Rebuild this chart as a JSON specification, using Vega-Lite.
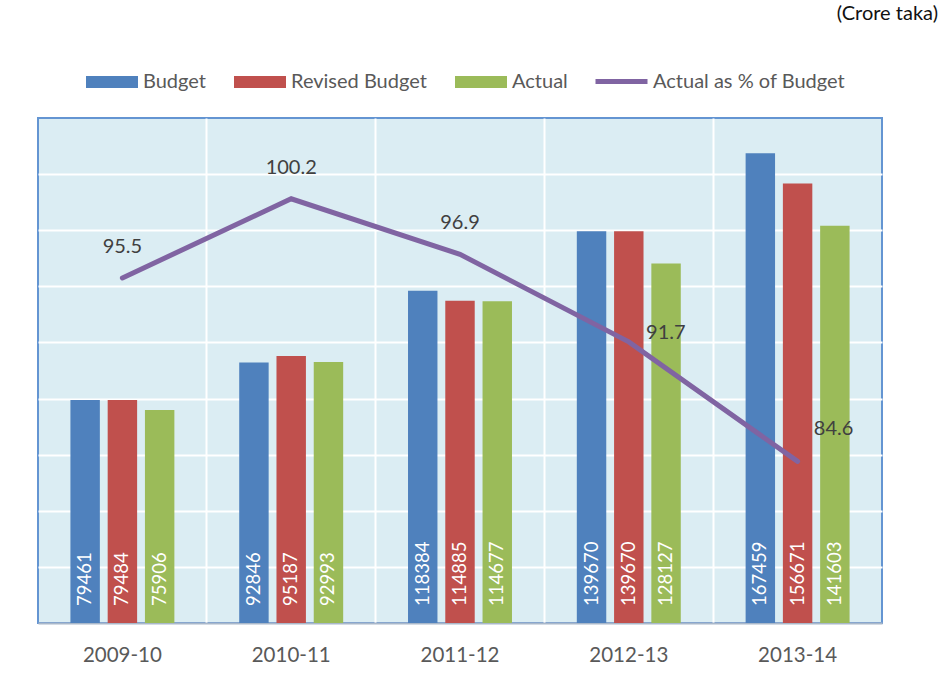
{
  "$schema": "https://vega.github.io/schema/vega-lite/v6.json",
  "autosize": "none",
  "width": 844,
  "height": 505,
  "padding": {"left": 38, "top": 118, "right": 58, "bottom": 57},
  "background": "white",
  "title": {"text": "(Crore taka)", "anchor": "end", "frame": "group", "dx": 56, "dy": 11, "fontSize": 20, "font": "Lato", "fontWeight": 400, "color": "#111111", "offset": 40},
  "datasets": {
    "bars": [
      {"year": "2009-10", "series": "Budget", "value": 79461},
      {"year": "2009-10", "series": "Revised Budget", "value": 79484},
      {"year": "2009-10", "series": "Actual", "value": 75906},
      {"year": "2010-11", "series": "Budget", "value": 92846},
      {"year": "2010-11", "series": "Revised Budget", "value": 95187},
      {"year": "2010-11", "series": "Actual", "value": 92993},
      {"year": "2011-12", "series": "Budget", "value": 118384},
      {"year": "2011-12", "series": "Revised Budget", "value": 114885},
      {"year": "2011-12", "series": "Actual", "value": 114677},
      {"year": "2012-13", "series": "Budget", "value": 139670},
      {"year": "2012-13", "series": "Revised Budget", "value": 139670},
      {"year": "2012-13", "series": "Actual", "value": 128127},
      {"year": "2013-14", "series": "Budget", "value": 167459},
      {"year": "2013-14", "series": "Revised Budget", "value": 156671},
      {"year": "2013-14", "series": "Actual", "value": 141603}
    ],
    "pct": [
      {"year": "2009-10", "pct": 95.5},
      {"year": "2010-11", "pct": 100.2},
      {"year": "2011-12", "pct": 96.9},
      {"year": "2012-13", "pct": 91.7},
      {"year": "2013-14", "pct": 84.6}
    ]
  },
  "encoding": {
    "x": {
      "field": "year", "type": "nominal", "sort": null,
      "scale": {"paddingInner": 0, "paddingOuter": 0},
      "axis": {
        "title": null, "labelAngle": 0, "ticks": false, "labelPadding": 22,
        "labelFont": "Lato", "labelFontSize": 20.5, "labelColor": "#595959",
        "domainColor": "#A9B8CA", "domainWidth": 2,
        "grid": true, "bandPosition": 0, "gridWidth": 2,
        "gridColor": {"condition": {"test": "datum.value === '2009-10'", "value": "transparent"}, "value": "#FFFFFF"}
      }
    }
  },
  "layer": [
    {
      "data": {"name": "bars"},
      "encoding": {
        "xOffset": {"field": "series", "type": "nominal", "sort": ["Budget", "Revised Budget", "Actual"], "scale": {"paddingInner": 0.21, "paddingOuter": 0.87}}
      },
      "layer": [
        {
          "mark": {"type": "bar"},
          "encoding": {
            "y": {"field": "value", "type": "quantitative", "scale": {"domain": [0, 180000], "nice": false},
              "axis": {"title": null, "labels": false, "ticks": false, "domain": false, "grid": true, "gridColor": "#FFFFFF", "gridWidth": 2,
                "values": [20000, 40000, 60000, 80000, 100000, 120000, 140000, 160000]}},
            "color": {
              "field": "series", "type": "nominal",
              "scale": {"domain": ["Budget", "Revised Budget", "Actual"], "range": ["#4F81BD", "#C0504D", "#9BBB59"]},
              "legend": {
                "title": null, "orient": "none", "legendX": 48, "legendY": -62, "direction": "horizontal",
                "symbolType": "M-1,-0.23H1V0.23H-1Z", "symbolSize": 2704, "symbolStrokeWidth": 0, "symbolOpacity": 1,
                "labelFont": "Lato", "labelFontSize": 20, "labelColor": "#595959", "labelLimit": 400,
                "labelOffset": 5, "columnPadding": 28
              }
            }
          }
        },
        {
          "mark": {"type": "text", "angle": 270, "align": "left", "baseline": "middle", "dx": 17, "font": "Lato", "fontSize": 18.5, "color": "#FFFFFF"},
          "encoding": {
            "y": {"datum": 0, "type": "quantitative", "scale": {"domain": [0, 180000], "nice": false}},
            "text": {"field": "value", "type": "quantitative", "format": "d"}
          }
        }
      ]
    },
    {
      "data": {"name": "pct"},
      "encoding": {
        "y": {"field": "pct", "type": "quantitative", "scale": {"domain": [75, 105], "nice": false}, "axis": null}
      },
      "layer": [
        {
          "mark": {"type": "line", "strokeWidth": 5, "strokeCap": "round"},
          "encoding": {
            "stroke": {
              "datum": "Actual as % of Budget", "type": "nominal",
              "scale": {"range": ["#8064A2"]},
              "legend": {
                "title": null, "orient": "none", "legendX": 555, "legendY": -65,
                "symbolType": "stroke", "symbolSize": 2704, "symbolStrokeWidth": 5, "symbolOpacity": 1,
                "labelFont": "Lato", "labelFontSize": 20, "labelColor": "#595959", "labelLimit": 400,
                "labelOffset": 3
              }
            }
          }
        },
        {
          "transform": [{"filter": "datum.year !== '2012-13' && datum.year !== '2013-14'"}],
          "mark": {"type": "text", "dy": -31, "font": "Lato", "fontSize": 20, "color": "#404040"},
          "encoding": {"text": {"field": "pct", "type": "quantitative", "format": ".1f"}}
        },
        {
          "transform": [{"filter": "datum.year === '2012-13'"}],
          "mark": {"type": "text", "dx": 37, "dy": -9, "font": "Lato", "fontSize": 20, "color": "#404040"},
          "encoding": {"text": {"field": "pct", "type": "quantitative", "format": ".1f"}}
        },
        {
          "transform": [{"filter": "datum.year === '2013-14'"}],
          "mark": {"type": "text", "dx": 36, "dy": -32, "font": "Lato", "fontSize": 20, "color": "#404040"},
          "encoding": {"text": {"field": "pct", "type": "quantitative", "format": ".1f"}}
        }
      ]
    }
  ],
  "resolve": {"scale": {"y": "independent"}},
  "config": {
    "view": {"fill": "#DBEDF3", "stroke": "#6495D2", "strokeWidth": 2}
  }
}
